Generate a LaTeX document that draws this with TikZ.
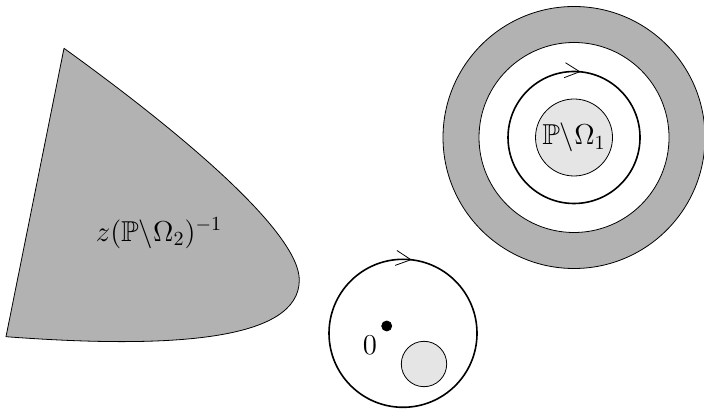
\documentclass[tikz,border=0pt]{standalone}
\usepackage{amssymb}
\usetikzlibrary{arrows.meta,decorations.markings}

\tikzset{
  contour/.style={thick, postaction={decorate},
    decoration={markings, mark=at position #1 with {\arrowreversed[line width=0.4pt]{Straight Barb[length=7.5pt,width=7.5pt]}}}},
  lbl/.style={font=\Large},
}

\begin{document}
\begin{tikzpicture}[x=0.5pt,y=0.5pt]
  \useasboundingbox (0,0) rectangle (704,411);
  % left region
  \filldraw[fill=gray!60] (64,362.7) -- (6,74.3) .. controls (170,62) and (299.3,70) .. (299.3,131)
    .. controls (299.3,176) and (194,269) .. (64,362.7);
  \node[lbl] (omtwo) at (159,177.7) {$z(\mathbb{P}\backslash\Omega_2)^{-1}$};
  % annulus
  \filldraw[fill=gray!60] (574,273.5) circle (131);
  \filldraw[fill=white] (574,273.5) circle (95);
  \draw[contour=0.234] (574,273.5) circle (66);
  \filldraw[fill=gray!20] (574,273.5) circle (38.5);
  \node[lbl] (omone) at (574,273.5) {$\mathbb{P}\backslash\Omega_1$};
  % disc
  \draw[contour=0.231] (403,77.7) circle (74);
  \filldraw (386.7,85) circle (5);
  \node[lbl] (zero) at (370,66) {$0$};
  \filldraw[fill=gray!20] (424,47) circle (22.7);
\end{tikzpicture}
\end{document}
